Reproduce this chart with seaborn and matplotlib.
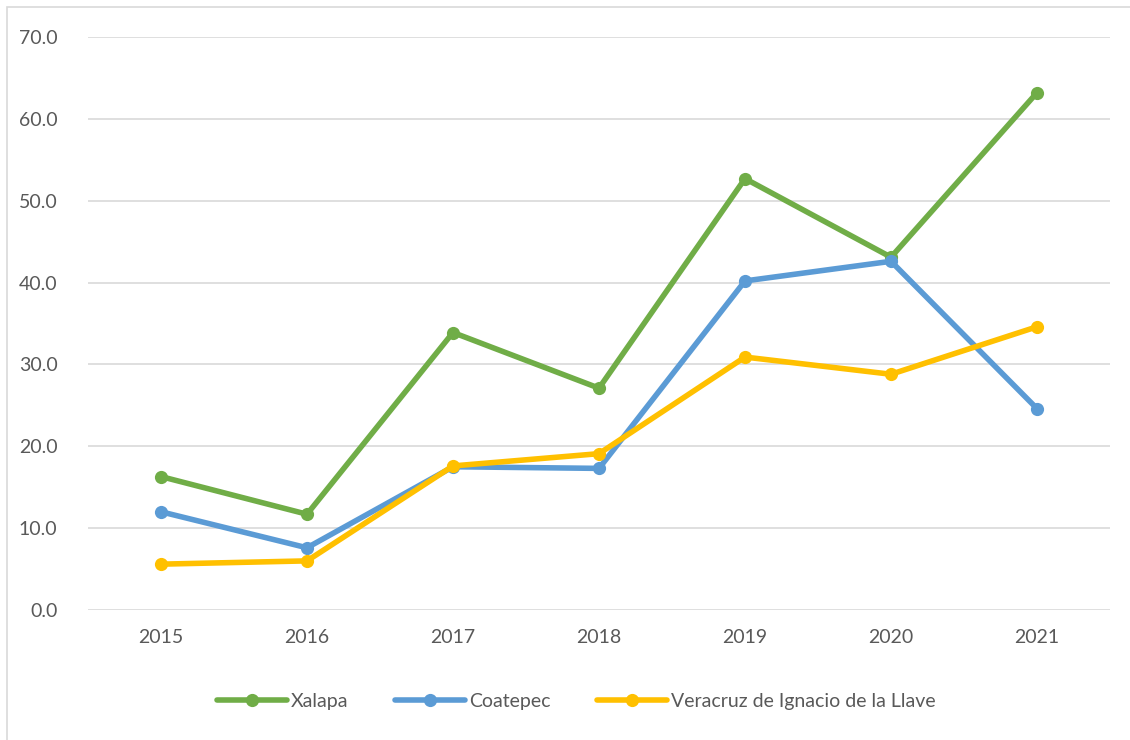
import matplotlib
matplotlib.use("Agg")
import matplotlib.pyplot as plt
import seaborn as sns
import pandas as pd
import numpy as np
from matplotlib.patches import Rectangle

years = ["2015", "2016", "2017", "2018", "2019", "2020", "2021"]
xalapa = [16.3, 11.7, 33.9, 27.1, 52.7, 43.1, 63.2]
coatepec = [12.0, 7.6, 17.5, 17.3, 40.2, 42.6, 24.6]
veracruz = [5.6, 6.0, 17.6, 19.1, 30.9, 28.8, 34.6]
series_names = ["Xalapa", "Coatepec", "Veracruz de Ignacio de la Llave"]
colors = ["#70AD47", "#5B9BD5", "#FFC000"]
yticks = [0, 10, 20, 30, 40, 50, 60, 70]

rows = []
for name, vals in zip(series_names, [xalapa, coatepec, veracruz]):
    for i, (yr, v) in enumerate(zip(years, vals)):
        rows.append({"pos": i, "year": yr, "value": v, "series": name})
df = pd.DataFrame(rows)

sns.set_theme(style="white")
plt.rcParams['font.family'] = ['Lato', 'DejaVu Sans']

fig = plt.figure(figsize=(11.3, 7.4), dpi=100)
ax = fig.add_axes([88/1130, 1 - 610/740, (1110 - 88)/1130, (610 - 37)/740])

sns.lineplot(data=df, x="pos", y="value", hue="series", hue_order=series_names,
             palette=colors, marker="o", markersize=9.5, markeredgewidth=0,
             linewidth=4.0, ax=ax, legend=True, sort=False)

ax.set_xlim(-0.5, len(years) - 0.5)
ax.set_ylim(0, 70)
ax.set_xticks(range(len(years)))
ax.set_xticklabels(years)
ax.set_yticks(yticks)
ax.set_yticklabels([f"{t:.1f}" for t in yticks])
ax.set_xlabel("")
ax.set_ylabel("")
ax.yaxis.grid(True, color="#D9D9D9", linewidth=1.2)
ax.xaxis.grid(False)
for s in ax.spines.values():
    s.set_visible(False)
ax.tick_params(axis="both", colors="#595959", labelsize=14, length=0)
ax.tick_params(axis="y", pad=22)
ax.tick_params(axis="x", pad=14)

handles, labels = ax.get_legend_handles_labels()
ax.legend_.remove()
fig.legend(handles, labels, loc="center", bbox_to_anchor=(576/1130, 1 - 701/740),
           ncol=3, frameon=False, fontsize=14, labelcolor="#595959",
           handlelength=3.6, columnspacing=2.4, handletextpad=0.2)

fig.patches.append(Rectangle((7/1130, -0.01), 1.0, 1 - 7/740 + 0.01,
                             transform=fig.transFigure, fill=False,
                             edgecolor="#D9D9D9", linewidth=1.2))

fig.savefig("out.png", dpi=100)
